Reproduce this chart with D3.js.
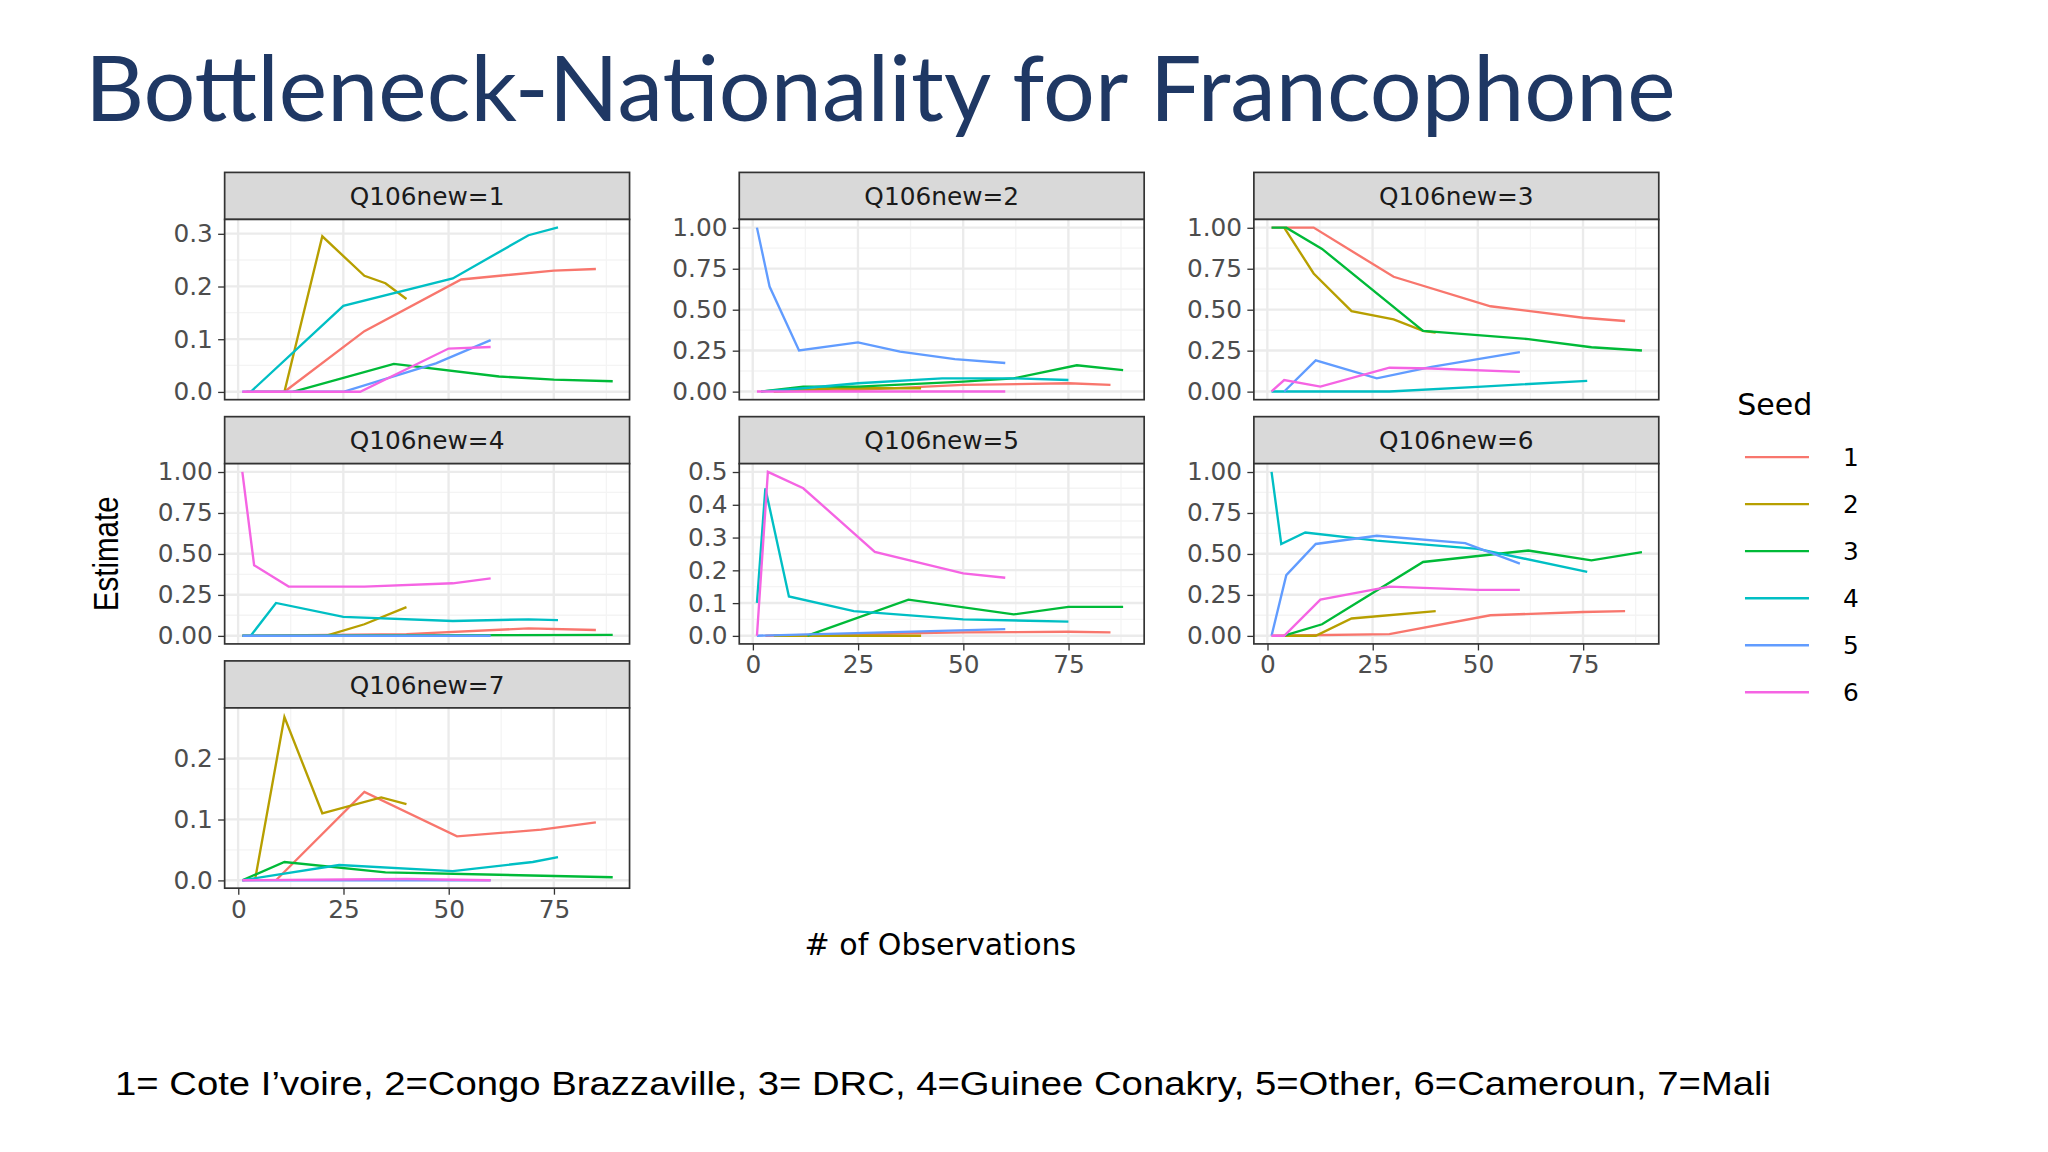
<!DOCTYPE html>
<html><head><meta charset="utf-8">
<script src="https://cdn.jsdelivr.net/npm/d3@7"></script>
<style>body{margin:0;background:#fff;}svg{display:block}</style>
</head><body>
<svg id="c" width="2048" height="1152" viewBox="0 0 1568 882"></svg>
<script>
const seeds = ["1","2","3","4","5","6"];
const colors = ["#F8766D","#B79F00","#00BA38","#00BFC4","#619CFF","#F564E3"];
const panelLabels = ["Q106new=1","Q106new=2","Q106new=3","Q106new=4","Q106new=5","Q106new=6","Q106new=7"];
const xTicks = [0,25,50,75];
const yTicksP1 = [0,0.1,0.2,0.3];
const yTicksFull = [0,0.25,0.5,0.75,1];
const yTicksP5 = [0,0.1,0.2,0.3,0.4,0.5];
const yTicksP7 = [0,0.1,0.2];
// series per panel, order seeds 1..6, points [obs, estimate]
const p1 = [
 [[2,0],[11,0],[30,0.115],[53,0.213],[75,0.23],[85,0.233]],
 [[11,0],[20,0.295],[30,0.22],[35,0.206],[40,0.176]],
 [[13,0],[37,0.053],[62,0.029],[75,0.023],[89,0.02]],
 [[3,0],[25,0.163],[51,0.215],[69,0.297],[76,0.312]],
 [[1,0],[25,0],[47,0.054],[60,0.098]],
 [[1,0],[29,0],[50,0.082],[60,0.085]]];
const p2 = [
 [[5,0],[25,0.01],[50,0.04],[75,0.05],[85,0.04]],
 [[5,0],[20,0.02],[40,0.02]],
 [[2,0],[12,0.03],[25,0.03],[50,0.06],[62,0.08],[77,0.16],[88,0.13]],
 [[2,0],[12,0.02],[25,0.05],[45,0.08],[62,0.08],[75,0.07]],
 [[1,1],[4,0.64],[11,0.25],[25,0.30],[35,0.243],[48,0.197],[60,0.174]],
 [[1,0],[60,0]]];
const p3 = [
 [[1,1],[11,1],[30,0.70],[53,0.52],[75,0.45],[85,0.43]],
 [[4,1],[11,0.72],[20,0.49],[30,0.44],[37,0.37],[40,0.36]],
 [[1,1],[4.5,1],[13,0.87],[37,0.37],[62,0.32],[77,0.27],[89,0.25]],
 [[1,0],[29,0],[51,0.03],[76,0.065]],
 [[4,0],[11.5,0.19],[26,0.08],[39,0.15],[60,0.24]],
 [[1,0],[4,0.07],[12.6,0.03],[29,0.145],[39,0.14],[60,0.12]]];
const p4 = [
 [[1,0],[40,0.01],[69,0.045],[85,0.035]],
 [[21,0],[30,0.07],[40,0.175]],
 [[1,0],[89,0.005]],
 [[3,0],[9,0.20],[25,0.115],[51,0.09],[69,0.10],[76,0.095]],
 [[1,0],[60,0]],
 [[1,1],[3.8,0.43],[12,0.30],[30,0.30],[51,0.32],[60,0.35]]];
const p5 = [
 [[3,0],[50,0.01],[75,0.012],[85,0.01]],
 [[5,0],[40,0]],
 [[13,0],[37,0.11],[62,0.065],[75,0.088],[88,0.088]],
 [[1,0.1],[3,0.45],[8.6,0.12],[24,0.075],[50,0.05],[75,0.043]],
 [[1,0],[60,0.02]],
 [[1,0],[3.6,0.5],[12,0.45],[29,0.256],[50,0.19],[60,0.177]]];
const p6 = [
 [[1,0],[29,0.01],[53,0.125],[75,0.145],[85,0.15]],
 [[4,0],[11.5,0],[20,0.105],[40,0.15]],
 [[4,0],[13,0.07],[37,0.45],[62,0.52],[77,0.46],[89,0.51]],
 [[1,1],[3.3,0.56],[9,0.63],[26,0.58],[50,0.53],[76,0.39]],
 [[1,0],[4.5,0.37],[11.5,0.56],[26,0.61],[47,0.565],[60,0.44]],
 [[1,0],[4,0],[12.6,0.22],[29,0.30],[50,0.28],[60,0.28]]];
const p7 = [
 [[9,0],[30,0.145],[52,0.072],[72,0.083],[85,0.095]],
 [[4,0],[11,0.268],[20,0.11],[34,0.136],[40,0.125]],
 [[1,0],[11,0.03],[35,0.013],[89,0.005]],
 [[1,0],[24,0.025],[51,0.015],[70,0.03],[76,0.038]],
 [[1,0],[60,0]],
 [[1,0],[40,0.002],[60,0]]];
const panelData = [p1,p2,p3,p4,p5,p6,p7];
const panelYTicks = [yTicksP1,yTicksFull,yTicksFull,yTicksFull,yTicksP5,yTicksFull,yTicksP7];
const panelYDomain = [[-0.015,0.327],[-0.05,1.05],[-0.05,1.05],[-0.05,1.05],[-0.025,0.525],[-0.05,1.05],[-0.013,0.283]];
const yFormat = [d3.format(".1f"),d3.format(".2f"),d3.format(".2f"),d3.format(".2f"),d3.format(".1f"),d3.format(".2f"),d3.format(".1f")];

const svg = d3.select("#c");
svg.append("rect").attr("width",1568).attr("height",882).attr("fill","#fff");
svg.append("text").attr("x",65).attr("y",93).attr("font-family","Lato, 'Open Sans', sans-serif")
  .attr("font-size",70).attr("fill","#1F3864").attr("textLength",1218).attr("lengthAdjust","spacingAndGlyphs")
  .text("Bottleneck-Nationality for Francophone");

const colX = [172,566,960], rowY = [132,319,506];
const pw = 310, sh = 36, ph = 138;
const tickFont = "'DejaVu Sans', sans-serif";
const x = d3.scaleLinear().domain([-3.2,93]).range([0,pw]);
const showX = [false,false,false,false,true,true,true];

panelData.forEach((series,i)=>{
  const gx = colX[i%3], gy = rowY[Math.floor(i/3)];
  const g = svg.append("g").attr("transform",`translate(${gx},${gy})`);
  g.append("rect").attr("width",pw).attr("height",sh).attr("fill","#D9D9D9").attr("stroke","#333").attr("stroke-width",1.3);
  g.append("text").attr("x",pw/2).attr("y",sh/2+7).attr("text-anchor","middle").attr("font-family",tickFont)
    .attr("font-size",19).attr("fill","#1a1a1a").text(panelLabels[i]);
  const p = g.append("g").attr("transform",`translate(0,${sh})`);
  const y = d3.scaleLinear().domain(panelYDomain[i]).range([ph,0]);
  p.append("rect").attr("width",pw).attr("height",ph).attr("fill","#fff");
  const yt = panelYTicks[i];
  const yMinor = yt.slice(1).map((t,k)=>(t+yt[k])/2);
  const xMinor = [12.5,37.5,62.5,87.5];
  p.selectAll(".ymn").data(yMinor).join("line").attr("x1",0).attr("x2",pw).attr("y1",d=>y(d)).attr("y2",d=>y(d)).attr("stroke","#F4F4F4").attr("stroke-width",1);
  p.selectAll(".xmn").data(xMinor).join("line").attr("y1",0).attr("y2",ph).attr("x1",d=>x(d)).attr("x2",d=>x(d)).attr("stroke","#F4F4F4").attr("stroke-width",1);
  p.selectAll(".ymj").data(yt).join("line").attr("x1",0).attr("x2",pw).attr("y1",d=>y(d)).attr("y2",d=>y(d)).attr("stroke","#EBEBEB").attr("stroke-width",1.8);
  p.selectAll(".xmj").data(xTicks).join("line").attr("y1",0).attr("y2",ph).attr("x1",d=>x(d)).attr("x2",d=>x(d)).attr("stroke","#EBEBEB").attr("stroke-width",1.8);
  const line = d3.line().x(d=>x(d[0])).y(d=>y(d[1]));
  series.forEach((s,k)=>{
    p.append("path").attr("d",line(s)).attr("fill","none").attr("stroke",colors[k]).attr("stroke-width",1.8);
  });
  p.append("rect").attr("width",pw).attr("height",ph).attr("fill","none").attr("stroke","#333").attr("stroke-width",1.3);
  const ya = p.append("g").call(d3.axisLeft(y).tickValues(yt).tickFormat(yFormat[i]).tickSize(5).tickPadding(4));
  ya.select(".domain").remove();
  ya.selectAll("line").attr("stroke","#333");
  ya.selectAll("text").attr("font-family",tickFont).attr("font-size",19).attr("fill","#4D4D4D");
  if(showX[i]){
    const xa = p.append("g").attr("transform",`translate(0,${ph})`).call(d3.axisBottom(x).tickValues(xTicks).tickSize(5).tickPadding(4));
    xa.select(".domain").remove();
    xa.selectAll("line").attr("stroke","#333");
    xa.selectAll("text").attr("font-family",tickFont).attr("font-size",19).attr("fill","#4D4D4D");
  }
});

svg.append("text").attr("transform","translate(90,424) rotate(-90)").attr("text-anchor","middle")
  .attr("font-family","'Liberation Sans', Arial, sans-serif").attr("font-size",27).attr("fill","#000")
  .attr("textLength",88).attr("lengthAdjust","spacingAndGlyphs").text("Estimate");
svg.append("text").attr("x",720).attr("y",731).attr("text-anchor","middle").attr("font-family",tickFont)
  .attr("font-size",23).attr("fill","#000").text("# of Observations");

const lg = svg.append("g");
lg.append("text").attr("x",1330).attr("y",318).attr("font-family",tickFont).attr("font-size",23).attr("fill","#000").text("Seed");
seeds.forEach((s,k)=>{
  const yy = 350 + k*36;
  lg.append("line").attr("x1",1336).attr("x2",1385).attr("y1",yy).attr("y2",yy).attr("stroke",colors[k]).attr("stroke-width",1.8);
  lg.append("text").attr("x",1411).attr("y",yy+7).attr("font-family",tickFont).attr("font-size",19).attr("fill","#000").text(s);
});

svg.append("text").attr("x",88).attr("y",838).attr("font-family","'Liberation Sans', Arial, sans-serif")
  .attr("font-size",26).attr("fill","#000").attr("textLength",1268).attr("lengthAdjust","spacingAndGlyphs")
  .text("1= Cote I’voire, 2=Congo Brazzaville, 3= DRC, 4=Guinee Conakry, 5=Other, 6=Cameroun, 7=Mali");
</script>
</body></html>
